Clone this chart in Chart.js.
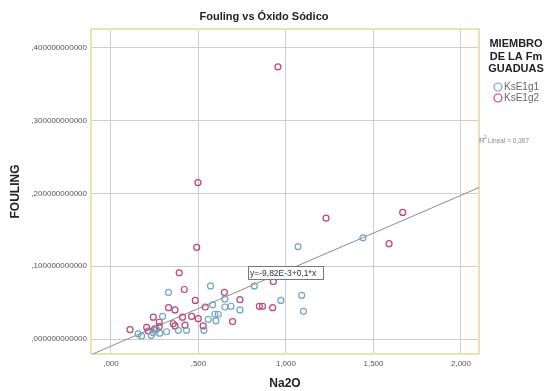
<!DOCTYPE html>
<html>
<head>
<meta charset="utf-8">
<script src="https://cdn.jsdelivr.net/npm/chart.js@4/dist/chart.umd.min.js"></script>
<style>
  body { margin: 0; background: #fff; }
  #wrap { width: 552px; height: 391px; }
</style>
</head>
<body>
<div id="wrap"><canvas id="chart" width="552" height="391"></canvas></div>
<script>
// Values (Na2O, FOULING)
const seriesNames = ['KsE1g1', 'KsE1g2'];

const ksE1g1 = [
    [1.069, 0.127], [1.440, 0.139], [1.090, 0.060], [0.971, 0.053], [1.100, 0.038],
    [0.569, 0.073], [0.819, 0.073], [0.329, 0.064], [0.651, 0.055], [0.581, 0.047],
    [0.651, 0.044], [0.686, 0.045], [0.737, 0.040], [0.594, 0.034], [0.613, 0.034],
    [0.295, 0.031], [0.556, 0.027], [0.531, 0.012], [0.155, 0.007], [0.175, 0.004],
    [0.240, 0.009], [0.278, 0.008], [0.318, 0.010], [0.385, 0.012], [0.432, 0.012],
    [0.260, 0.013], [0.600, 0.025], [0.230, 0.005]
];

const ksE1g2 = [
    [0.954, 0.374], [0.497, 0.215], [1.229, 0.166], [1.667, 0.174], [1.589, 0.131],
    [0.490, 0.126], [0.390, 0.091], [0.928, 0.079], [0.419, 0.068], [0.648, 0.064],
    [0.482, 0.053], [0.737, 0.054], [0.924, 0.043], [0.848, 0.045], [0.866, 0.045],
    [0.539, 0.044], [0.329, 0.043], [0.366, 0.040], [0.242, 0.030], [0.409, 0.030],
    [0.461, 0.031], [0.499, 0.028], [0.695, 0.024], [0.109, 0.013], [0.204, 0.016],
    [0.213, 0.011], [0.276, 0.023], [0.276, 0.017], [0.356, 0.021], [0.366, 0.018],
    [0.423, 0.019], [0.527, 0.018], [0.250, 0.014]
];

// Fit line shown on the chart
const fitIntercept = -0.00982;
const fitSlope = 0.1036;
const fitLabel = 'y=-9,82E-3+0,1*x';
const r2Label = 'Lineal = 0,367';

// Axis ticks
const xTicks = [0, 0.5, 1, 1.5, 2];
const xTickLabels = [',000', ',500', '1,000', '1,500', '2,000'];
const yTicks = [0, 0.1, 0.2, 0.3, 0.4];
const yTickLabels = [',000000000000', ',100000000000', ',200000000000', ',300000000000', ',400000000000'];

const xMin = -0.114, xMax = 2.103;
const yMin = -0.0206, yMax = 0.426;

const blue = '#6ea4c8';
const red = '#bd4470';
const tickFont = { family: 'Liberation Sans', size: 8 };

const toPoints = arr => arr.map(p => ({ x: p[0], y: p[1] }));

// Draws title, frame, legend and fit labels
const decorations = {
    id: 'decorations',
    beforeDatasetsDraw(chart) {
        const { ctx, chartArea: a } = chart;
        ctx.save();
        ctx.strokeStyle = '#e8e3b2';
        ctx.lineWidth = 2;
        ctx.strokeRect(a.left, a.top, a.right - a.left, a.bottom - a.top);
        ctx.restore();
    },
    afterDraw(chart) {
        const ctx = chart.ctx;
        ctx.save();
        ctx.fillStyle = '#222';
        ctx.textAlign = 'center';
        ctx.textBaseline = 'middle';
        ctx.font = 'bold 11px "Liberation Sans", Arial';
        ctx.fillText('Fouling vs Óxido Sódico', 264, 17);

        // legend
        ['MIEMBRO', 'DE LA Fm', 'GUADUAS'].forEach((t, i) => {
            ctx.fillText(t, 516, 44 + i * 12.5);
        });
        ctx.textAlign = 'left';
        ctx.font = '10px "Liberation Sans", Arial';
        [blue, red].forEach((c, i) => {
            const y = 87 + i * 11;
            ctx.beginPath();
            ctx.arc(498, y, 4, 0, Math.PI * 2);
            ctx.strokeStyle = c;
            ctx.lineWidth = 1.2;
            ctx.stroke();
            ctx.fillStyle = '#666';
            ctx.fillText(seriesNames[i], 504, y + 0.5);
        });

        // R² label
        ctx.fillStyle = '#888';
        ctx.font = '8px "Liberation Sans", Arial';
        ctx.fillText('R', 479, 141);
        ctx.font = '5px "Liberation Sans", Arial';
        ctx.fillText('2', 484, 138);
        ctx.font = '6.5px "Liberation Sans", Arial';
        ctx.fillText(r2Label, 488, 141);

        // fit equation box
        ctx.fillStyle = '#fff';
        ctx.fillRect(248, 266, 75, 13);
        ctx.strokeStyle = '#777';
        ctx.lineWidth = 1;
        ctx.strokeRect(248.5, 266.5, 75, 13);
        ctx.fillStyle = '#333';
        ctx.font = '8.5px "Liberation Sans", Arial';
        ctx.fillText(fitLabel, 250, 273.5);
        ctx.restore();
    }
};

new Chart(document.getElementById('chart'), {
    type: 'scatter',
    data: {
        datasets: [
            {
                label: seriesNames[0],
                data: toPoints(ksE1g1),
                borderColor: blue,
                backgroundColor: 'rgba(0,0,0,0)',
                pointRadius: 3,
                borderWidth: 1.2
            },
            {
                label: seriesNames[1],
                data: toPoints(ksE1g2),
                borderColor: red,
                backgroundColor: 'rgba(0,0,0,0)',
                pointRadius: 3,
                borderWidth: 1.2
            },
            {
                type: 'line',
                label: 'Lineal',
                data: [
                    { x: xMin, y: fitIntercept + fitSlope * xMin },
                    { x: xMax, y: fitIntercept + fitSlope * xMax }
                ],
                borderColor: '#8a8a8a',
                borderWidth: 1,
                pointRadius: 0,
                fill: false
            }
        ]
    },
    options: {
        responsive: false,
        animation: false,
        layout: { padding: { top: 29, right: 73, left: 0, bottom: 0 } },
        plugins: {
            legend: { display: false },
            title: { display: false },
            tooltip: { enabled: false }
        },
        scales: {
            x: {
                type: 'linear',
                min: xMin,
                max: xMax,
                afterBuildTicks: s => { s.ticks = xTicks.map(v => ({ value: v })); },
                afterFit: s => { s.height = 37; },
                grid: { color: '#cdccd2', drawTicks: false },
                border: { display: false },
                ticks: {
                    padding: 5,
                    font: tickFont,
                    color: '#555',
                    maxRotation: 0,
                    callback: v => xTickLabels[xTicks.indexOf(v)]
                },
                title: {
                    display: true,
                    text: 'Na2O',
                    color: '#222',
                    font: { family: 'Liberation Sans', size: 12, weight: 'bold' },
                    padding: { top: 0, bottom: 0 }
                }
            },
            y: {
                min: yMin,
                max: yMax,
                afterBuildTicks: s => { s.ticks = yTicks.map(v => ({ value: v })); },
                afterFit: s => { s.width = 91; },
                grid: { color: '#cdccd2', drawTicks: false },
                border: { display: false },
                ticks: {
                    padding: 4,
                    font: tickFont,
                    color: '#555',
                    callback: v => yTickLabels[yTicks.indexOf(v)]
                },
                title: {
                    display: true,
                    text: 'FOULING',
                    color: '#222',
                    font: { family: 'Liberation Sans', size: 12, weight: 'bold' },
                    padding: { top: 8, bottom: 0 }
                }
            }
        }
    },
    plugins: [decorations]
});
</script>
</body>
</html>
